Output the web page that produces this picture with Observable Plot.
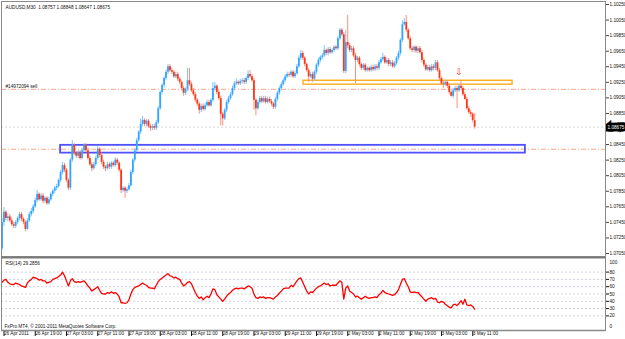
<!DOCTYPE html>
<html><head><meta charset="utf-8">
<script src="https://cdn.jsdelivr.net/npm/d3@7"></script>
<script src="https://cdn.jsdelivr.net/npm/@observablehq/plot@0.6"></script>
<style>
body{margin:0;background:#fff;}
#chart{width:625px;height:339px;}
#chart svg{display:block;}
</style></head><body><div id="chart"></div>
<script>
const symbolHeader = "AUDUSD,M30  1.08757 1.08848 1.08647 1.08675";
const orderLabel = "#14972094 sell";
const rsiLabel = "RSI(14) 29.2856";
const copyright = "FxPro MT4, \u00a9 2001-2011 MetaQuotes Software Corp.";

const barOpen = [1.0711,1.0745,1.0758,1.0750,1.0752,1.0747,1.0742,1.0740,1.0745,1.0750,
1.0755,1.0749,1.0745,1.0736,1.0747,1.0755,1.0759,1.0765,1.0773,1.0781,
1.0774,1.0779,1.0772,1.0776,1.0769,1.0774,1.0781,1.0785,1.0789,1.0791,
1.0799,1.0809,1.0818,1.0812,1.0799,1.0789,1.0825,1.0844,1.0834,1.0830,
1.0835,1.0827,1.0837,1.0844,1.0837,1.0827,1.0819,1.0814,1.0819,1.0827,
1.0839,1.0831,1.0822,1.0816,1.0814,1.0819,1.0816,1.0821,1.0818,1.0825,
1.0821,1.0812,1.0786,1.0789,1.0785,1.0787,1.0792,1.0809,1.0825,1.0837,
1.0850,1.0861,1.0871,1.0876,1.0871,1.0875,1.0868,1.0866,1.0868,1.0866,
1.0873,1.0891,1.0912,1.0921,1.0930,1.0938,1.0945,1.0940,1.0938,1.0932,
1.0935,1.0929,1.0925,1.0917,1.0911,1.0916,1.0927,1.0922,1.0914,1.0909,
1.0902,1.0897,1.0889,1.0894,1.0890,1.0895,1.0899,1.0895,1.0902,1.0917,
1.0920,1.0912,1.0904,1.0884,1.0878,1.0889,1.0899,1.0904,1.0909,1.0917,
1.0923,1.0925,1.0923,1.0926,1.0927,1.0925,1.0930,1.0935,1.0932,1.0927,
1.0902,1.0891,1.0899,1.0904,1.0900,1.0904,1.0899,1.0903,1.0900,1.0897,
1.0893,1.0903,1.0911,1.0917,1.0922,1.0927,1.0932,1.0935,1.0934,1.0938,
1.0932,1.0936,1.0945,1.0956,1.0962,1.0956,1.0948,1.0940,1.0932,1.0935,
1.0929,1.0938,1.0947,1.0953,1.0957,1.0959,1.0966,1.0962,1.0967,1.0963,
1.0966,1.0970,1.0968,1.0981,1.0992,1.0986,1.0939,1.0976,1.0972,1.0966,
1.0968,1.0959,1.0953,1.0956,1.0948,1.0943,1.0947,1.0940,1.0943,1.0940,
1.0944,1.0941,1.0945,1.0943,1.0950,1.0954,1.0957,1.0950,1.0953,1.0948,
1.0950,1.0945,1.0949,1.0956,1.0962,1.0979,1.0999,1.1002,1.0992,1.0981,
1.0968,1.0966,1.0970,1.0965,1.0968,1.0963,1.0953,1.0947,1.0941,1.0944,
1.0940,1.0945,1.0943,1.0950,1.0940,1.0930,1.0923,1.0922,1.0925,1.0920,
1.0912,1.0907,1.0914,1.0917,1.0914,1.0920,1.0917,1.0909,1.0903,1.0891,
1.0886,1.0884,1.08757];

const barHigh = [1.0750,1.0764,1.0760,1.0756,1.0755,1.0750,1.0745,1.0747,1.0752,1.0758,
1.0758,1.0751,1.0747,1.0750,1.0758,1.0763,1.0768,1.0776,1.0786,1.0783,
1.0782,1.0782,1.0778,1.0778,1.0777,1.0783,1.0787,1.0791,1.0794,1.0801,
1.0812,1.0822,1.0821,1.0814,1.0801,1.0827,1.0850,1.0846,1.0836,1.0837,
1.0837,1.0840,1.0846,1.0846,1.0840,1.0830,1.0822,1.0822,1.0830,1.0843,
1.0841,1.0834,1.0825,1.0818,1.0822,1.0822,1.0823,1.0823,1.0828,1.0827,
1.0823,1.0814,1.0791,1.0791,1.0790,1.0795,1.0812,1.0827,1.0840,1.0853,
1.0863,1.0878,1.0881,1.0878,1.0877,1.0877,1.0871,1.0871,1.0871,1.0876,
1.0894,1.0914,1.0923,1.0932,1.0941,1.0948,1.0948,1.0943,1.0940,1.0938,
1.0938,1.0931,1.0927,1.0920,1.0918,1.0943,1.0943,1.0925,1.0917,1.0912,
1.0904,1.0899,1.0897,1.0897,1.0898,1.0902,1.0902,1.0904,1.0925,1.0925,
1.0922,1.0914,1.0907,1.0886,1.0891,1.0902,1.0907,1.0912,1.0920,1.0926,
1.0929,1.0927,1.0929,1.0930,1.0930,1.0932,1.0940,1.0940,1.0935,1.0930,
1.0904,1.0902,1.0907,1.0907,1.0907,1.0907,1.0906,1.0906,1.0903,1.0899,
1.0906,1.0913,1.0920,1.0925,1.0930,1.0935,1.0938,1.0938,1.0940,1.0940,
1.0939,1.0948,1.0959,1.0966,1.0965,1.0958,1.0950,1.0943,1.0938,1.0938,
1.0940,1.0949,1.0956,1.0959,1.0962,1.0972,1.0968,1.0970,1.0970,1.0968,
1.0972,1.0972,1.0984,1.0994,1.0994,1.0989,1.0992,1.1011,1.0975,1.0971,
1.0971,1.0962,1.0958,1.0958,1.0950,1.0949,1.0949,1.0945,1.0945,1.0947,
1.0947,1.0948,1.0948,1.0953,1.0957,1.0962,1.0959,1.0956,1.0956,1.0953,
1.0953,1.0952,1.0958,1.0965,1.0981,1.1004,1.1007,1.1011,1.0994,1.0984,
1.0971,1.0972,1.0972,1.0971,1.0971,1.0966,1.0956,1.0949,1.0947,1.0947,
1.0948,1.0948,1.0953,1.0953,1.0943,1.0932,1.0926,1.0927,1.0927,1.0922,
1.0914,1.0917,1.0920,1.0920,1.0922,1.0927,1.0920,1.0912,1.0906,1.0894,
1.0889,1.0886,1.08848];

const barLow = [1.0709,1.0740,1.0747,1.0746,1.0745,1.0740,1.0737,1.0737,1.0742,1.0747,
1.0746,1.0742,1.0733,1.0735,1.0745,1.0752,1.0756,1.0763,1.0770,1.0772,
1.0772,1.0769,1.0769,1.0767,1.0767,1.0772,1.0778,1.0782,1.0786,1.0789,
1.0796,1.0806,1.0809,1.0796,1.0786,1.0786,1.0822,1.0831,1.0827,1.0827,
1.0825,1.0825,1.0835,1.0835,1.0825,1.0817,1.0810,1.0812,1.0817,1.0825,
1.0828,1.0819,1.0813,1.0810,1.0812,1.0813,1.0813,1.0816,1.0816,1.0818,
1.0809,1.0782,1.0783,1.0776,1.0782,1.0785,1.0790,1.0806,1.0822,1.0835,
1.0848,1.0858,1.0868,1.0868,1.0868,1.0866,1.0862,1.0863,1.0863,1.0863,
1.0871,1.0889,1.0909,1.0918,1.0927,1.0935,1.0938,1.0935,1.0930,1.0930,
1.0926,1.0922,1.0914,1.0907,1.0908,1.0913,1.0920,1.0912,1.0907,1.0899,
1.0894,1.0884,1.0886,1.0888,1.0888,1.0893,1.0893,1.0893,1.0899,1.0914,
1.0909,1.0902,1.0869,1.0869,1.0876,1.0886,1.0897,1.0902,1.0907,1.0914,
1.0921,1.0921,1.0921,1.0923,1.0922,1.0922,1.0927,1.0930,1.0925,1.0889,
1.0882,1.0889,1.0897,1.0898,1.0898,1.0897,1.0897,1.0898,1.0894,1.0890,
1.0890,1.0900,1.0908,1.0914,1.0920,1.0925,1.0930,1.0931,1.0931,1.0930,
1.0930,1.0934,1.0943,1.0953,1.0953,1.0945,1.0938,1.0925,1.0930,1.0925,
1.0926,1.0935,1.0944,1.0950,1.0954,1.0957,1.0959,1.0959,1.0961,1.0961,
1.0963,1.0966,1.0966,1.0979,1.0984,1.0936,1.0936,1.0968,1.0963,1.0963,
1.0957,1.0923,1.0950,1.0945,1.0940,1.0940,1.0938,1.0938,1.0938,1.0938,
1.0939,1.0939,1.0940,1.0940,1.0948,1.0952,1.0948,1.0948,1.0945,1.0945,
1.0943,1.0943,1.0947,1.0953,1.0959,1.0976,1.0997,1.0989,1.0979,1.0966,
1.0963,1.0963,1.0962,1.0962,1.0961,1.0950,1.0944,1.0939,1.0939,1.0938,
1.0938,1.0940,1.0940,1.0938,1.0927,1.0921,1.0917,1.0920,1.0917,1.0909,
1.0906,1.0904,1.0912,1.0891,1.0912,1.0914,1.0907,1.0902,1.0889,1.0884,
1.0880,1.0873,1.08647];

const barClose = [1.0745,1.0758,1.0750,1.0752,1.0747,1.0742,1.0740,1.0745,1.0750,1.0755,
1.0749,1.0745,1.0736,1.0747,1.0755,1.0759,1.0765,1.0773,1.0781,1.0774,
1.0779,1.0772,1.0776,1.0769,1.0774,1.0781,1.0785,1.0789,1.0791,1.0799,
1.0809,1.0818,1.0812,1.0799,1.0789,1.0825,1.0844,1.0834,1.0830,1.0835,
1.0827,1.0837,1.0844,1.0837,1.0827,1.0819,1.0814,1.0819,1.0827,1.0839,
1.0831,1.0822,1.0816,1.0814,1.0819,1.0816,1.0821,1.0818,1.0825,1.0821,
1.0812,1.0786,1.0789,1.0785,1.0787,1.0792,1.0809,1.0825,1.0837,1.0850,
1.0861,1.0871,1.0876,1.0871,1.0875,1.0868,1.0866,1.0868,1.0866,1.0873,
1.0891,1.0912,1.0921,1.0930,1.0938,1.0945,1.0940,1.0938,1.0932,1.0935,
1.0929,1.0925,1.0917,1.0911,1.0916,1.0927,1.0922,1.0914,1.0909,1.0902,
1.0897,1.0889,1.0894,1.0890,1.0895,1.0899,1.0895,1.0902,1.0917,1.0920,
1.0912,1.0904,1.0884,1.0878,1.0889,1.0899,1.0904,1.0909,1.0917,1.0923,
1.0925,1.0923,1.0926,1.0927,1.0925,1.0930,1.0935,1.0932,1.0927,1.0902,
1.0891,1.0899,1.0904,1.0900,1.0904,1.0899,1.0903,1.0900,1.0897,1.0893,
1.0903,1.0911,1.0917,1.0922,1.0927,1.0932,1.0935,1.0934,1.0938,1.0932,
1.0936,1.0945,1.0956,1.0962,1.0956,1.0948,1.0940,1.0932,1.0935,1.0929,
1.0938,1.0947,1.0953,1.0957,1.0959,1.0966,1.0962,1.0967,1.0963,1.0966,
1.0970,1.0968,1.0981,1.0992,1.0986,1.0939,1.0976,1.0972,1.0966,1.0968,
1.0959,1.0953,1.0956,1.0948,1.0943,1.0947,1.0940,1.0943,1.0940,1.0944,
1.0941,1.0945,1.0943,1.0950,1.0954,1.0957,1.0950,1.0953,1.0948,1.0950,
1.0945,1.0949,1.0956,1.0962,1.0979,1.0999,1.1002,1.0992,1.0981,1.0968,
1.0966,1.0970,1.0965,1.0968,1.0963,1.0953,1.0947,1.0941,1.0944,1.0940,
1.0945,1.0943,1.0950,1.0940,1.0930,1.0923,1.0922,1.0925,1.0920,1.0912,
1.0907,1.0914,1.0917,1.0914,1.0920,1.0917,1.0909,1.0903,1.0891,1.0886,
1.0884,1.0876,1.08675];

const rsiValues = [66,69,70,66,64,63,63,65,64,63,
61,60,59,65,68,70,73,72,71,69,
70,68,68,65,66,67,70,71,72,74,
76,80,75,68,61,68,71,67,66,67,
66,67,68,65,61,58,54,56,58,60,
55,51,50,50,52,51,53,51,52,50,
46,38,38,37,38,42,50,56,59,60,
61,63,65,63,62,59,58,58,57,62,
67,70,72,74,76,78,75,74,72,73,
71,70,65,61,63,66,67,64,58,52,
47,44,46,42,45,47,45,50,57,56,
49,46,43,40,43,47,50,52,55,57,
58,57,58,58,57,59,61,60,58,50,
45,44,46,45,46,44,45,45,44,43,
46,48,51,54,57,58,58,58,62,60,
64,68,71,72,66,60,54,50,53,52,
55,58,60,61,63,65,63,64,61,62,
62,62,65,68,66,43,58,61,54,52,
50,46,47,45,43,45,47,45,44,45,
45,46,45,49,51,55,52,51,50,49,
48,49,52,56,63,70,71,65,60,53,
52,53,52,52,49,46,43,40,43,44,
45,43,44,39,38,40,39,36,34,32,
31,35,36,34,37,41,36,43,35,34,
35,33,29.2856];

const priceTicks = [1.1025,1.1005,1.0985,1.0965,1.0945,1.0925,1.0905,1.0885,1.0845,1.0825,1.0805,1.0785,1.0765,1.0745,1.0725,1.0705];
const bidPrice = 1.08675;
const sellPrice = 1.0916;
const orderLevels = [1.0916, 1.0839];
const resistanceZone = [{x1: 154.4, x2: 261.4, y1: 1.0927, y2: 1.0922}];
const supportZone = [{x1: 30, x2: 268, y1: 1.0844, y2: 1.0834}];
const sellArrow = [{i: 234, price: 1.0938}];
const rsiLevels = [80,70,60,50,40,30,20];
const timeTickIdx = [0,16,32,48,64,80,96,112,128,144,160,176,192,208,224,240];
const timeLabels = ["26 Apr 2011","26 Apr 19:00","27 Apr 03:00","27 Apr 11:00","27 Apr 19:00","28 Apr 03:00","28 Apr 11:00","28 Apr 19:00","29 Apr 03:00","29 Apr 11:00","29 Apr 19:00","2 May 03:00","2 May 11:00","2 May 19:00","3 May 03:00","3 May 11:00"];

const bars = barClose.map((c, i) => ({i, open: barOpen[i], high: barHigh[i], low: barLow[i], close: c}));
const bull = "#2ea6ff", bear = "#ff3418", bullWick = "#7cc4ff", bearWick = "#ff9078";
const FONT = "'Liberation Sans', Arial, sans-serif";
const XS = {domain: [0, 309], range: [1.5, 605], axis: null};

const main = Plot.plot({
  width: 625, height: 257, marginTop: 1, marginLeft: 1, marginRight: 20, marginBottom: 1,
  style: {fontFamily: FONT, fontSize: "4.7px", background: "#fff", color: "#111", overflow: "visible"},
  x: XS,
  y: {domain: [1.0705, 1.1025], range: [253, 4], axis: null},
  marks: [
    Plot.ruleY([bidPrice], {stroke: "#d4d4d4", strokeDasharray: "2,2"}),
    Plot.ruleY(orderLevels, {stroke: "#ffa585", strokeDasharray: "5,2,1,2"}),
    Plot.rect(resistanceZone, {x1: "x1", x2: "x2", y1: "y1", y2: "y2", fill: "none", stroke: "#ffaa18", strokeWidth: 1.4}),
    Plot.rect(supportZone, {x1: "x1", x2: "x2", y1: "y1", y2: "y2", fill: "none", stroke: "#5050ff", strokeWidth: 1.8}),
    Plot.ruleX(bars, {x: "i", y1: "low", y2: "high", stroke: d => d.close >= d.open ? bullWick : bearWick, strokeWidth: 1}),
    Plot.ruleX(bars, {x: "i", y1: "open", y2: "close", stroke: d => d.close >= d.open ? bull : bear, strokeWidth: 1.8}),
    Plot.text(sellArrow, {x: "i", y: "price", text: () => "\u21e9", fill: "#ff3020", fontSize: 9, fontFamily: "DejaVu Sans"}),
    Plot.axisY({anchor: "right", ticks: priceTicks, tickFormat: d3.format(".5f"), tickSize: 3, tickPadding: 1, stroke: "#444"}),
    Plot.text([bidPrice], {y: d => d, frameAnchor: "right", text: d => d.toFixed(5), textAnchor: "start", dx: 2, fill: "white", stroke: "black", strokeWidth: 5, strokeLinejoin: "miter"}),
    Plot.text([symbolHeader], {frameAnchor: "top-left", dx: 4, dy: 4, text: d => d, textAnchor: "start"}),
    Plot.text([orderLabel], {frameAnchor: "left", y: () => sellPrice, dx: 4, dy: -3, text: d => d, textAnchor: "start"}),
    Plot.frame({stroke: "#8a8a8a"})
  ]
});

const rsiPanel = Plot.plot({
  width: 625, height: 82, marginTop: 0, marginLeft: 1, marginRight: 20, marginBottom: 9,
  style: {fontFamily: FONT, fontSize: "4.7px", background: "#fff", color: "#111", overflow: "visible"},
  x: XS,
  y: {domain: [0, 100], range: [73, 0], axis: null},
  marks: [
    Plot.ruleY(rsiLevels, {stroke: "#d2d2de", strokeDasharray: "2,2"}),
    Plot.lineY(rsiValues, {x: (d, i) => i, y: d => d, stroke: "#ff0000", strokeWidth: 1.3}),
    Plot.axisY({anchor: "right", ticks: rsiLevels, tickSize: 3, tickPadding: 1}),
    Plot.text(["100"], {frameAnchor: "top-right", dx: 4, dy: 3, text: d => d, textAnchor: "start"}),
    Plot.text(["0"], {frameAnchor: "bottom-right", dx: 4, dy: -3, text: d => d, textAnchor: "start"}),
    Plot.axisX({anchor: "bottom", ticks: timeTickIdx, tickFormat: d => timeLabels[timeTickIdx.indexOf(d)], tickSize: 6, tickPadding: -5, textAnchor: "start", dx: 2}),
    Plot.text([rsiLabel], {frameAnchor: "top-left", dx: 4, dy: 4, text: d => d, textAnchor: "start"}),
    Plot.text([copyright], {frameAnchor: "bottom-left", dx: 3, dy: -3, text: d => d, textAnchor: "start"}),
    Plot.frame({stroke: "#8a8a8a"}),
    Plot.ruleY([100], {stroke: "#7a7a7a", strokeWidth: 2}),
    Plot.ruleY([0], {stroke: "#8a8a8a", strokeWidth: 1.5})
  ]
});

const root = document.getElementById("chart");
root.appendChild(main);
root.appendChild(rsiPanel);
</script></body></html>
